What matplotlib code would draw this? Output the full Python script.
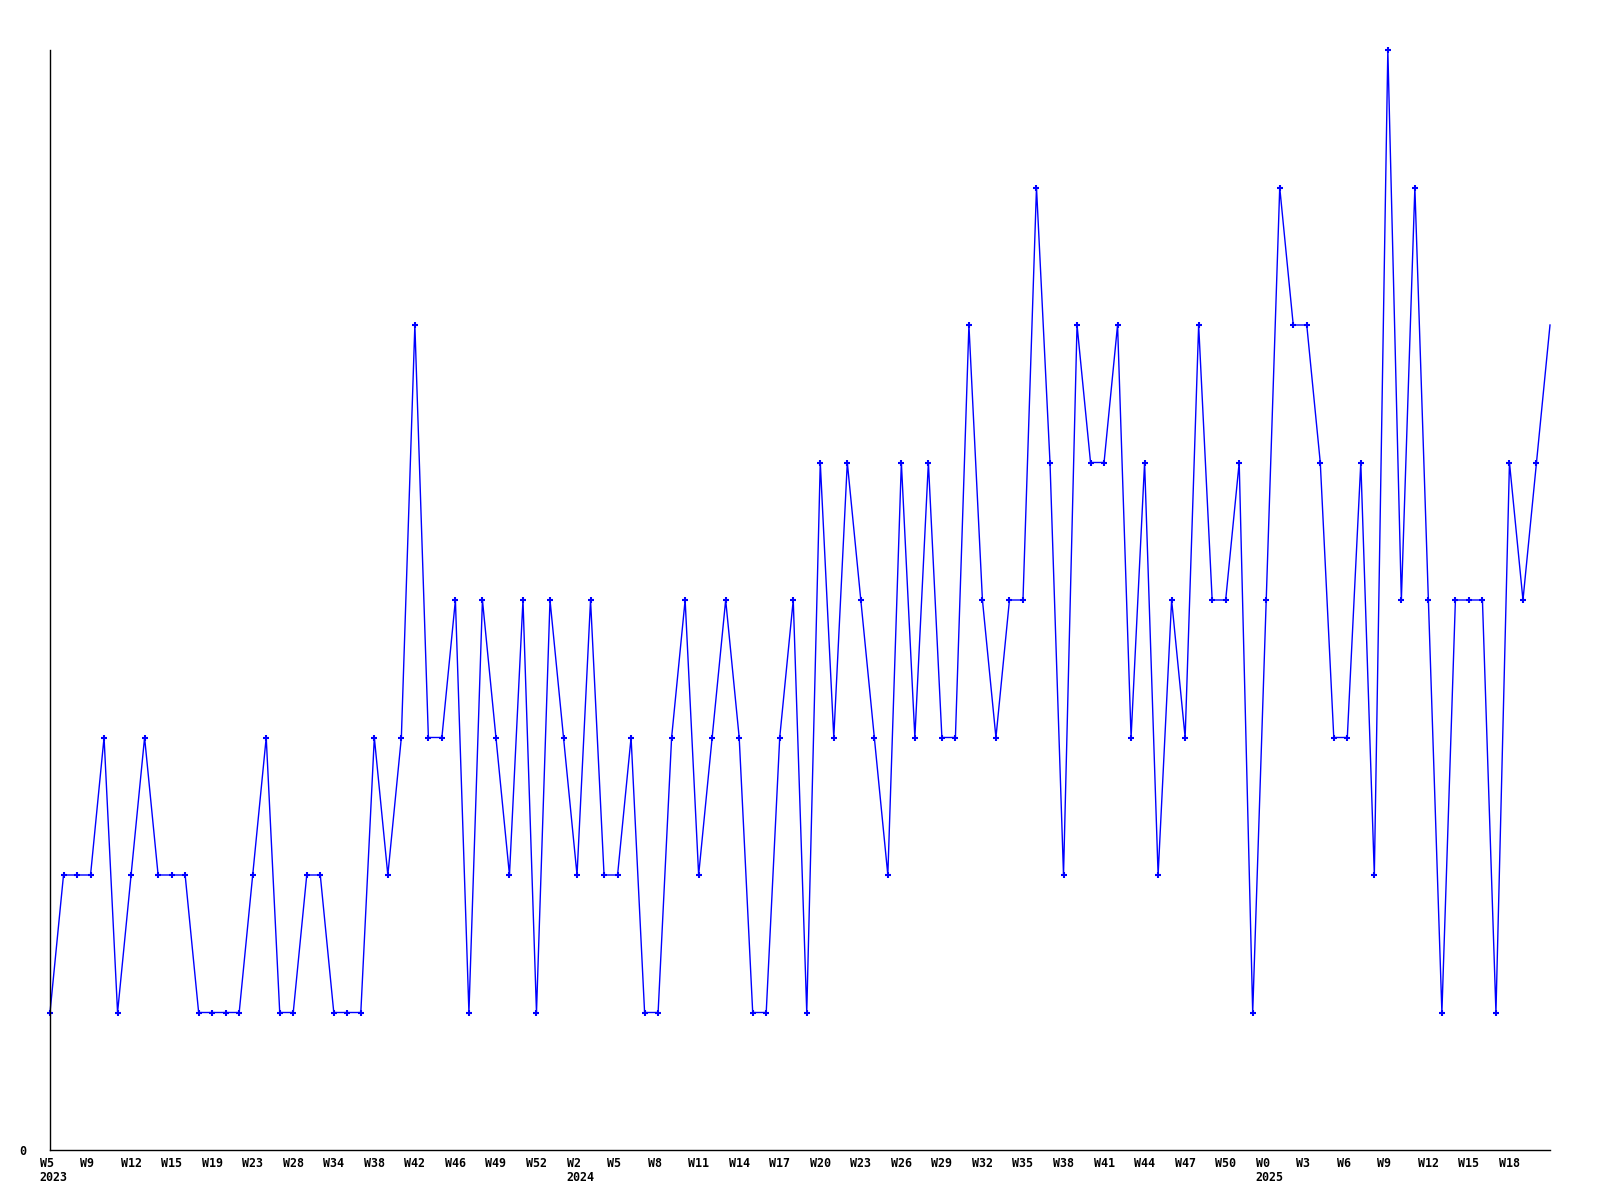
import matplotlib
matplotlib.use("Agg")
import matplotlib.pyplot as plt
from matplotlib.transforms import ScaledTranslation

# weekly counts, one value per point
values = [
    1, 2, 2, 2, 3, 1, 2, 3, 2, 2, 2, 1, 1, 1, 1, 2, 3, 1, 1, 2,
    2, 1, 1, 1, 3, 2, 3, 6, 3, 3, 4, 1, 4, 3, 2, 4, 1, 4, 3, 2,
    4, 2, 2, 3, 1, 1, 3, 4, 2, 3, 4, 3, 1, 1, 3, 4, 1, 5, 3, 5,
    4, 3, 2, 5, 3, 5, 3, 3, 6, 4, 3, 4, 4, 7, 5, 2, 6, 5, 5, 6,
    3, 5, 2, 4, 3, 6, 4, 4, 5, 1, 4, 7, 6, 6, 5, 3, 3, 5, 2, 8,
    4, 7, 4, 1, 4, 4, 4, 1, 5, 4, 5, 6,
]

# label on every third point
tick_labels = [
    "W5\n2023", "W9", "W12", "W15", "W19", "W23", "W28", "W34", "W38",
    "W42", "W46", "W49", "W52", "W2\n2024", "W5", "W8", "W11", "W14",
    "W17", "W20", "W23", "W26", "W29", "W32", "W35", "W38", "W41",
    "W44", "W47", "W50", "W0\n2025", "W3", "W6", "W9", "W12", "W15", "W18",
]

x = list(range(len(values)))
tick_pos = x[::3][:len(tick_labels)]

fig = plt.figure(figsize=(16, 12), dpi=100)
ax = fig.add_axes([50 / 1600, 50 / 1200, 1500 / 1600, 1100 / 1200])

ax.plot(x, values, color="#0000ff", lw=1.0, marker="+", ms=4, mew=1.5,
        markevery=list(range(len(values) - 1)), clip_on=False)

ax.set_xlim(0, len(values) - 1)
ax.set_ylim(0, 8)

for side in ["top", "right"]:
    ax.spines[side].set_visible(False)
for side in ["left", "bottom"]:
    ax.spines[side].set_linewidth(1.0)
    ax.spines[side].set_color("black")

font = dict(family="DejaVu Sans Mono", weight="bold", size=8.4)

ax.set_yticks([0])
ax.set_yticklabels(["0"], **font)
ax.tick_params(axis="y", length=0, pad=17)

ax.set_xticks(tick_pos)
ax.set_xticklabels(tick_labels, **font, ha="left", linespacing=1.15)
ax.tick_params(axis="x", length=0, pad=5)
shift = ScaledTranslation(-10.5 / 100, 0, fig.dpi_scale_trans)
for lbl in ax.get_xticklabels():
    lbl.set_transform(lbl.get_transform() + shift)

fig.savefig("out.png", dpi=100, facecolor="white")
